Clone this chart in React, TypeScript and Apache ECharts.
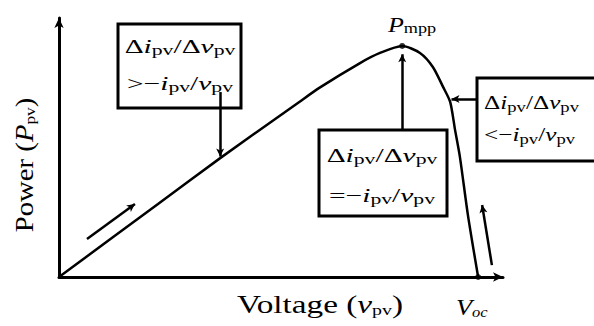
import React, { useEffect, useRef } from "react";
import * as echarts from "echarts";

const voltage = [0, 22.3, 36.3, 53.8, 58.8, 67.8, 72.3, 77.3, 81.3, 84.2, 86.5, 88.1, 89.2, 90.3, 92.1, 94.4];
const power = [0, 28.2, 45.9, 67.2, 73.2, 82.6, 86.5, 89.2, 86.5, 81.1, 73.4, 67.6, 56.8, 46.3, 23.9, 0];
const keyPoints = [[77.3, 89.2], [94.4, 0]];
const xLabel = "Voltage";
const yLabel = "Power";

const SERIF = "Liberation Serif";

function rel(op: string) {
  return `{d|Δ}{i|i}{s|pv}{n|/Δ}{i|v}{s|pv}\n{n|${op}−}{i|i}{s|pv}{n|/}{i|v}{s|pv}`;
}

const TXT = "#707070";
const boxRich = {
  d: { fontFamily: SERIF, fontSize: 19, color: TXT },
  n: { fontFamily: SERIF, fontSize: 19, color: TXT },
  i: { fontFamily: SERIF, fontSize: 19, fontStyle: "italic", color: TXT },
  s: { fontFamily: SERIF, fontSize: 14, color: TXT, padding: [8, 0, 0, 0] },
};

export default function App() {
  const ref = useRef<HTMLDivElement>(null);
  useEffect(() => {
    const chart = echarts.init(ref.current!, null, { renderer: "svg" });
    const data = voltage.map((v, k) => [v, power[k]]);
    const arrow = (a: number[], b: number[]) => [
      { coord: a, symbol: "none" },
      { coord: b, symbol: "arrow" },
    ];
    chart.setOption({
      animation: false,
      grid: { left: 59, right: 91, top: 18, bottom: 49 },
      xAxis: {
        type: "value", min: 0, max: 100,
        axisLine: { show: true, symbol: ["none", "arrow"], symbolSize: [7, 10], lineStyle: { color: "#000", width: 3 } },
        axisTick: { show: false }, axisLabel: { show: false }, splitLine: { show: false },
      },
      yAxis: {
        type: "value", min: 0, max: 100,
        axisLine: { show: true, symbol: ["none", "arrow"], symbolSize: [7, 10], lineStyle: { color: "#000", width: 3 } },
        axisTick: { show: false }, axisLabel: { show: false }, splitLine: { show: false },
      },
      series: [
        {
          type: "line", data, smooth: 0.25, showSymbol: false,
          lineStyle: { color: "#000", width: 2.5 },
          markLine: {
            silent: true, symbolSize: [6, 8], label: { show: false },
            lineStyle: { color: "#000", width: 2.5, type: "solid" },
            data: [
              arrow([36.3, 71.4], [36.3, 46.5]),
              arrow([77.3, 56.8], [77.3, 86.0]),
              arrow([94.1, 68.7], [88.4, 68.7]),
              arrow([6.3, 14.7], [17.1, 28.2]),
              arrow([97.5, 4.6], [95.3, 27.8]),
            ],
          },
        },
        {
          type: "scatter", data: keyPoints, symbolSize: 6,
          itemStyle: { color: "#000" },
        },
      ],
      graphic: [
        { type: "rect", shape: { x: 118, y: 24, width: 123, height: 84 }, style: { fill: "#fff", stroke: "#000", lineWidth: 3 } },
        { type: "text", x: 180, y: 65, scaleX: 1.55, style: { text: rel(">"), rich: boxRich, align: "center", verticalAlign: "middle", lineHeight: 37 } },
        { type: "rect", shape: { x: 319, y: 130, width: 128, height: 86 }, style: { fill: "#fff", stroke: "#000", lineWidth: 3 } },
        { type: "text", x: 382, y: 175, scaleX: 1.55, style: { text: rel("="), rich: boxRich, align: "center", verticalAlign: "middle", lineHeight: 40 } },
        { type: "rect", shape: { x: 477, y: 78, width: 150, height: 83 }, style: { fill: "#fff", stroke: "#000", lineWidth: 3 } },
        { type: "text", x: 484, y: 119, scaleX: 1.33, style: { text: rel("<"), rich: boxRich, align: "left", verticalAlign: "middle", lineHeight: 32 } },
        {
          type: "text", x: 388, y: 25, scaleX: 1.3,
          style: {
            text: "{i|P}{s|mpp}", verticalAlign: "middle",
            rich: {
              i: { fontFamily: SERIF, fontSize: 20, fontStyle: "italic", color: "#333" },
              s: { fontFamily: SERIF, fontSize: 14, color: "#555", padding: [8, 0, 0, 0] },
            },
          },
        },
        {
          type: "text", x: 456, y: 307, scaleX: 1.1,
          style: {
            text: "{i|V}{s|oc}", verticalAlign: "middle",
            rich: {
              i: { fontFamily: SERIF, fontSize: 24, fontStyle: "italic", color: "#333" },
              s: { fontFamily: SERIF, fontSize: 15, fontStyle: "italic", color: "#666", padding: [10, 0, 0, 0] },
            },
          },
        },
        {
          type: "text", x: 320, y: 305, scaleX: 1.33,
          style: {
            text: `{n|${xLabel} (}{i|v}{s|pv}{n|)}`, align: "center", verticalAlign: "middle",
            rich: {
              n: { fontFamily: SERIF, fontSize: 25, color: "#3a3a3a" },
              i: { fontFamily: SERIF, fontSize: 25, fontStyle: "italic", color: "#3a3a3a" },
              s: { fontFamily: SERIF, fontSize: 15, color: "#555", padding: [10, 0, 0, 0] },
            },
          },
        },
        {
          type: "text", x: 25, y: 165, rotation: Math.PI / 2, scaleX: 1.15,
          style: {
            text: `{n|${yLabel} (}{i|P}{s|pv}{n|)}`, align: "center", verticalAlign: "middle",
            rich: {
              n: { fontFamily: SERIF, fontSize: 25, color: "#3a3a3a" },
              i: { fontFamily: SERIF, fontSize: 25, fontStyle: "italic", color: "#3a3a3a" },
              s: { fontFamily: SERIF, fontSize: 15, color: "#555", padding: [10, 0, 0, 0] },
            },
          },
        },
      ],
    });
    return () => chart.dispose();
  }, []);
  return <div ref={ref} style={{ position: "fixed", left: 0, top: 0, width: 594, height: 326, background: "#fff" }} />;
}
